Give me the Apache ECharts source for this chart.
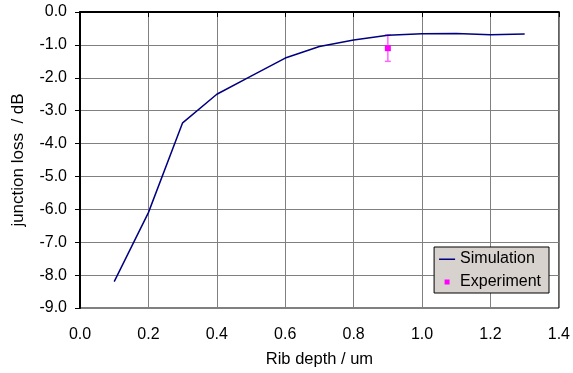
<!DOCTYPE html>
<html>
<head>
<meta charset="utf-8">
<script src="https://cdn.jsdelivr.net/npm/echarts@6/dist/echarts.min.js"></script>
<style>
  html, body { margin: 0; padding: 0; background: #fff; }
  #chart { width: 573px; height: 373px; }
</style>
</head>
<body>
<div id="chart"></div>
<script>
// simulated junction loss vs rib depth
const ribDepth = [0.1, 0.2, 0.3, 0.4, 0.5, 0.6, 0.7, 0.8, 0.9, 1.0, 1.1, 1.2, 1.3];
const simLoss = [-8.2, -6.1, -3.37, -2.5, -1.95, -1.4, -1.05, -0.85, -0.71, -0.66, -0.65, -0.69, -0.67];

// single measurement with error bar
const expDepth = [0.9];
const expLoss = [-1.1];
const expLow = [-1.5];
const expHigh = [-0.7];

const font = 'Liberation Sans, Arial, sans-serif';

const chart = echarts.init(document.getElementById('chart'));
chart.setOption({
  animation: false,
  textStyle: { fontFamily: font },
  grid: {
    left: 80, right: 13, top: 12, bottom: 64,
    show: true, borderColor: '#000', borderWidth: 1
  },
  legend: {
    right: 24, top: 247,
    orient: 'vertical',
    backgroundColor: '#d8d2ce',
    borderColor: '#000',
    borderWidth: 1,
    padding: [4, 8, 3, 5],
    itemGap: 7,
    itemWidth: 16,
    itemHeight: 10,
    textStyle: { fontFamily: font, fontSize: 16, color: '#000' },
    data: [
      { name: 'Simulation', icon: 'path://M0,0L0.01,0M16,10L15.99,10M0,4.5L16,4.5L16,6L0,6Z' },
      { name: 'Experiment', icon: 'path://M0,0L0.01,0M16,10L15.99,10M5.5,2.5L10.5,2.5L10.5,7.5L5.5,7.5Z' }
    ]
  },
  xAxis: {
    type: 'value',
    min: 0, max: 1.4, interval: 0.2,
    name: 'Rib depth / um',
    nameLocation: 'middle',
    nameGap: 43,
    nameTextStyle: { fontSize: 16.5, color: '#000' },
    axisLine: { lineStyle: { color: '#000', width: 2 } },
    axisTick: { show: true, length: 5, lineStyle: { color: '#000' } },
    axisLabel: { fontSize: 16, color: '#000', margin: 19, formatter: v => v.toFixed(1) },
    splitLine: { lineStyle: { color: '#808080', width: 1 } }
  },
  yAxis: {
    type: 'value',
    min: -9, max: 0, interval: 1,
    name: 'junction loss  / dB',
    nameLocation: 'middle',
    nameGap: 53,
    nameTextStyle: { fontSize: 17, color: '#000' },
    axisLine: { lineStyle: { color: '#000', width: 2 } },
    axisTick: { show: true, length: 5, lineStyle: { color: '#000' } },
    axisLabel: { fontSize: 16, color: '#000', margin: 13, formatter: v => v.toFixed(1) },
    splitLine: { lineStyle: { color: '#808080', width: 1 } }
  },
  series: [
    {
      name: 'Simulation',
      type: 'line',
      color: '#000080',
      symbol: 'none',
      lineStyle: { width: 1.5, color: '#000080' },
      data: ribDepth.map((x, i) => [x, simLoss[i]])
    },
    {
      name: 'Experiment',
      type: 'custom',
      color: '#ff00ff',
      data: expDepth.map((x, i) => [x, expLoss[i], expLow[i], expHigh[i]]),
      renderItem: (params, api) => {
        const c = api.coord([api.value(0), api.value(1)]);
        const lo = api.coord([api.value(0), api.value(2)]);
        const hi = api.coord([api.value(0), api.value(3)]);
        const barStyle = { stroke: '#ff66ff', lineWidth: 1.5 };
        return {
          type: 'group',
          children: [
            { type: 'line', shape: { x1: hi[0], y1: hi[1], x2: lo[0], y2: lo[1] }, style: barStyle },
            { type: 'line', shape: { x1: hi[0] - 3, y1: hi[1], x2: hi[0] + 3, y2: hi[1] }, style: barStyle },
            { type: 'line', shape: { x1: lo[0] - 3, y1: lo[1], x2: lo[0] + 3, y2: lo[1] }, style: barStyle },
            { type: 'rect', shape: { x: c[0] - 3, y: c[1] - 3, width: 6, height: 6 }, style: { fill: '#ff00ff' } }
          ]
        };
      }
    }
  ]
});
</script>
</body>
</html>
